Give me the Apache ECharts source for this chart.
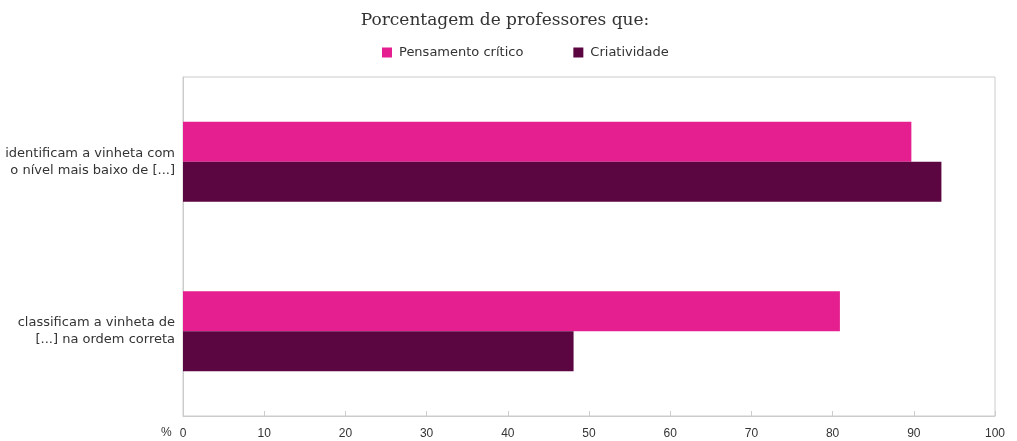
<!DOCTYPE html>
<html>
<head>
<meta charset="utf-8">
<script src="https://cdn.jsdelivr.net/npm/echarts@6/dist/echarts.min.js"></script>
<style>
  html, body { margin: 0; padding: 0; background: #fff; }
  #chart { width: 1017px; height: 441px; }
</style>
</head>
<body>
<div id="chart"></div>
<script>
// categories top -> bottom
const categories = [
  'identificam a vinheta com\no nível mais baixo de [...]',
  'classificam a vinheta de\n[...] na ordem correta',
];
const seriesNames = ['Pensamento crítico', 'Criatividade'];
const pensamentoCritico = [89.7, 80.9];
const criatividade = [93.4, 48.1];
const xTicks = [0, 100, 10];

const chart = echarts.init(document.getElementById('chart'));
const font = '"DejaVu Sans", Verdana, sans-serif';
const numFont = '"Liberation Sans", Arial, Helvetica, sans-serif';
const gray = '#cccccc';

chart.setOption({
  animation: false,
  textStyle: { fontFamily: font },
  title: {
    text: 'Porcentagem de professores que:',
    left: 500,
    textAlign: 'center',
    top: 7,
    textStyle: {
      fontFamily: '"DejaVu Serif", "Liberation Serif", serif',
      fontWeight: 'normal',
      fontSize: 17,
      color: '#333',
    },
  },
  legend: {
    data: seriesNames,
    top: 46,
    left: 382,
    padding: 0,
    itemWidth: 10,
    itemHeight: 10,
    itemGap: 50,
    icon: 'rect',
    textStyle: { fontSize: 13, color: '#333', fontFamily: font, padding: [0, 0, 0, 2] },
  },
  grid: {
    left: 183,
    right: 22,
    top: 77,
    bottom: 25,
    show: true,
    borderColor: gray,
    borderWidth: 1,
    containLabel: false,
  },
  xAxis: {
    type: 'value',
    min: xTicks[0],
    max: xTicks[1],
    interval: xTicks[2],
    splitLine: { show: false },
    axisLine: { show: true, lineStyle: { color: gray } },
    axisTick: { show: true, inside: true, length: 5, lineStyle: { color: gray } },
    axisLabel: { color: '#333', fontSize: 12, margin: 12, fontFamily: numFont },
  },
  yAxis: {
    type: 'category',
    inverse: true,
    data: categories,
    axisLine: { show: true, lineStyle: { color: gray } },
    axisTick: { show: false },
    axisLabel: {
      color: '#333',
      fontSize: 13,
      lineHeight: 17,
      margin: 8,
      align: 'right',
      fontFamily: font,
    },
  },
  graphic: [{
    type: 'text',
    left: 161,
    top: 427,
    style: { text: '%', fontSize: 12, fill: '#333', fontFamily: numFont },
  }],
  series: [
    {
      name: seriesNames[0],
      type: 'bar',
      data: pensamentoCritico,
      barWidth: 40,
      barGap: '0%',
      itemStyle: { color: '#e51f8f' },
    },
    {
      name: seriesNames[1],
      type: 'bar',
      data: criatividade,
      barWidth: 40,
      barGap: '0%',
      itemStyle: { color: '#5b0541' },
    },
  ],
});
</script>
</body>
</html>
